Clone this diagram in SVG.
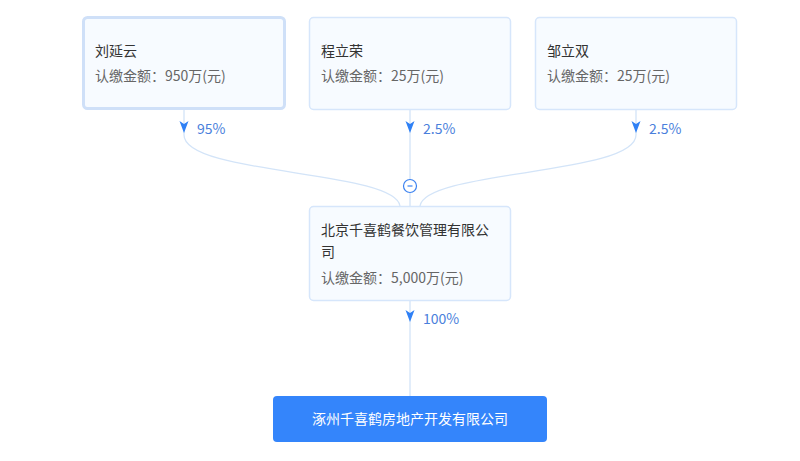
<svg xmlns="http://www.w3.org/2000/svg" width="800" height="461" viewBox="0 0 800 461">
<style>
.box{fill:#f7fbff;stroke:#d6e6fb;stroke-width:1.5}
.sel{stroke:#cfe0f8;stroke-width:3}
.name{font-family:"Noto Sans CJK SC","Liberation Sans",sans-serif;font-size:14px;fill:#333}
.amt{font-family:"Noto Sans CJK SC","Liberation Sans",sans-serif;font-size:14px;fill:#666}
.pct{font-family:"Noto Sans CJK SC","Liberation Sans",sans-serif;font-size:14px;fill:#4a7fdc}
.line{fill:none;stroke:#d3e4f8;stroke-width:1.3}
.arr{fill:#2f80f5}
</style>
<defs>
<path id="ah" d="M-4.5,0 L0,3 L4.5,0 L0,12 Z"/>
</defs>
<rect width="800" height="461" fill="#ffffff"/>
<g id="connectors">
<path class="line" d="M184,110 L184,135 C184,175 395,170 400,206"/>
<path class="line" d="M410,110 L410,206"/>
<path class="line" d="M636,110 L636,135 C636,175 425,170 420,206"/>
<path class="line" d="M410,301 L410,396"/>
<use href="#ah" class="arr" x="184" y="121"/>
<use href="#ah" class="arr" x="410" y="121"/>
<use href="#ah" class="arr" x="636" y="121"/>
<use href="#ah" class="arr" x="410" y="310"/>
<text class="pct" x="197" y="134">95%</text>
<text class="pct" x="423" y="134">2.5%</text>
<text class="pct" x="649" y="134">2.5%</text>
<text class="pct" x="423" y="324">100%</text>
<circle cx="410" cy="186" r="6.5" fill="#fff" stroke="#3b82f0" stroke-width="1.2"/>
<line x1="407.5" y1="186" x2="412.5" y2="186" stroke="#3b82f0" stroke-width="1.2"/>
</g>
<g id="node-liu">
<rect class="box sel" x="83.5" y="17.5" width="201" height="91" rx="4"/>
<text class="name" x="95" y="56">刘延云</text>
<text class="amt" x="95" y="81">认缴金额：950万(元)</text>
</g>
<g id="node-cheng">
<rect class="box" x="309.5" y="17.5" width="201" height="92" rx="4"/>
<text class="name" x="321" y="56">程立荣</text>
<text class="amt" x="321" y="81">认缴金额：25万(元)</text>
</g>
<g id="node-zou">
<rect class="box" x="535.5" y="17.5" width="201" height="92" rx="4"/>
<text class="name" x="547" y="56">邹立双</text>
<text class="amt" x="547" y="81">认缴金额：25万(元)</text>
</g>
<g id="node-beijing">
<rect class="box" x="309.5" y="206.5" width="201" height="94" rx="4"/>
<text class="name" x="321" y="235">北京千喜鹤餐饮管理有限公</text>
<text class="name" x="321" y="257">司</text>
<text class="amt" x="321" y="283">认缴金额：5,000万(元)</text>
</g>
<g id="node-zhuozhou">
<rect x="273" y="396" width="274" height="46" rx="4" fill="#3485fb"/>
<text x="410" y="424" text-anchor="middle" font-family="'Noto Sans CJK SC','Liberation Sans',sans-serif" font-size="14" fill="#ffffff">涿州千喜鹤房地产开发有限公司</text>
</g>
</svg>
